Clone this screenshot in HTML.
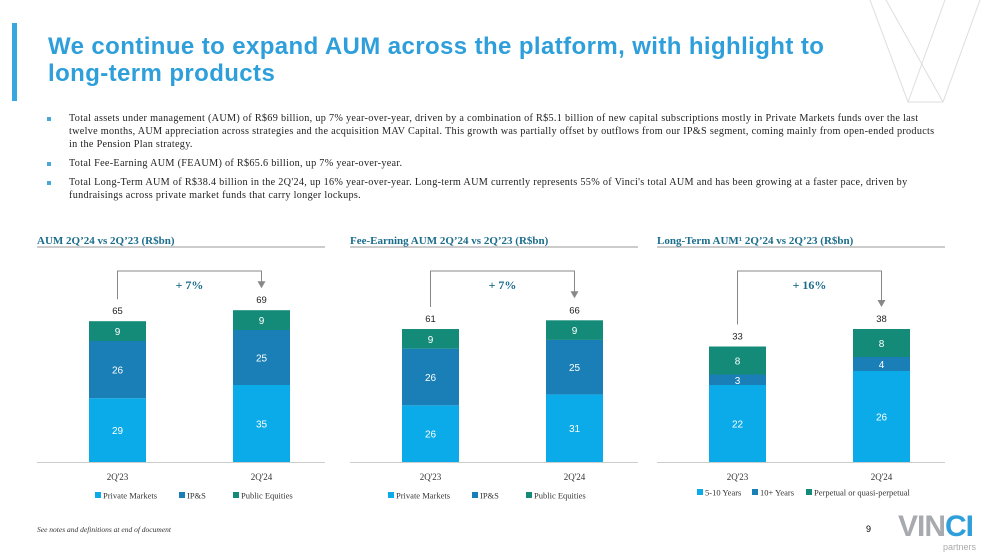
<!DOCTYPE html>
<html><head><meta charset="utf-8">
<style>
body{margin:0;width:996px;height:560px;overflow:hidden;background:#fff;font-family:"Liberation Serif",serif;position:relative}
.abs{position:absolute}
#title{left:48px;top:33px;font:bold 24px/27px "Liberation Sans",sans-serif;color:#2e9fda;letter-spacing:0.4px;white-space:nowrap}
#bar-accent{left:12px;top:23px;width:5px;height:78px;background:#3aa6df}
ul{position:absolute;left:44px;top:112px;width:900px;margin:0;padding:0;list-style:none;font-size:10.2px;line-height:13px;color:#222;letter-spacing:0.3px}
li{position:relative;padding-left:25px;margin-bottom:6px}
li:before{content:"";position:absolute;left:3px;top:5px;width:4px;height:4px;background:#4aa8d6}
.foot{font-size:7.5px;font-style:italic;color:#333}
</style></head><body>
<div class="abs" id="bar-accent"></div>
<div class="abs" id="title">We continue to expand AUM across the platform, with highlight to<br>long-term products</div>
<svg class="abs" style="left:860px;top:0" width="136" height="105">
<path d="M10 0 L48 102 L83 102 L120 0 M85 0 L48 102 M26 0 L83 102" stroke="#ddd" fill="none"/>
</svg>
<ul>
<li>Total assets under management (AUM) of R$69 billion, up 7% year-over-year, driven by a combination of R$5.1 billion of new capital subscriptions mostly in Private Markets funds over the last twelve months, AUM appreciation across strategies and the acquisition MAV Capital. This growth was partially offset by outflows from our IP&amp;S segment, coming mainly from open-ended products in the Pension Plan strategy.</li>
<li>Total Fee-Earning AUM (FEAUM) of R$65.6 billion, up 7% year-over-year.</li>
<li>Total Long-Term AUM of R$38.4 billion in the 2Q'24, up 16% year-over-year. Long-term AUM currently represents 55% of Vinci's total AUM and has been growing at a faster pace, driven by fundraisings across private market funds that carry longer lockups.</li>
</ul>
<svg id="charts" class="abs" style="left:0;top:0" width="996" height="560"></svg>
<div class="abs foot" style="left:37px;top:525px">See notes and definitions at end of document</div>
<div class="abs" style="left:866px;top:524px;font-size:9px;font-family:'Liberation Sans',sans-serif">9</div>
<div class="abs" style="left:898px;top:512px;font:bold 30px/30px 'Liberation Sans',sans-serif;letter-spacing:-1px"><span style="color:#a7abaf">VIN</span><span style="color:#2e9fda">CI</span></div>
<div class="abs" style="left:943px;top:542px;font:9px 'Liberation Sans',sans-serif;color:#aaa">partners</div>
<script>
const categories=["2Q'23","2Q'24"];
const aumPM=[29,35], aumIPS=[26,25], aumPE=[9,9], aumTotal=[65,69];
const feaPM=[26,31], feaIPS=[26,25], feaPE=[9,9], feaTotal=[61,66];
const ltShort=[22,26], ltLong=[3,4], ltPerp=[8,8], ltTotal=[33,38];
const growth=["+ 7%","+ 7%","+ 16%"];
const colors=["#0aabe8","#1a7fb6","#148b78"];
const NS="http://www.w3.org/2000/svg";
const svg=document.getElementById('charts');
function mk(t,a,txt){const e=document.createElementNS(NS,t);for(const k in a)e.setAttribute(k,a[k]);if(txt!==undefined)e.textContent=txt;svg.appendChild(e);return e;}
const charts=[
 {x0:37,title:"AUM 2Q’24 vs 2Q’23 (R$bn)",series:[aumPM,aumIPS,aumPE],totals:aumTotal,legend:["Private Markets","IP&S","Public Equities"],scale:2.2,g:growth[0],legX:[95,179,233]},
 {x0:350,title:"Fee-Earning AUM 2Q’24 vs 2Q’23 (R$bn)",series:[feaPM,feaIPS,feaPE],totals:feaTotal,legend:["Private Markets","IP&S","Public Equities"],scale:2.18,g:growth[1],legX:[388,472,526]},
 {x0:657,title:"Long-Term AUM¹ 2Q’24 vs 2Q’23 (R$bn)",series:[ltShort,ltLong,ltPerp],totals:ltTotal,legend:["5-10 Years","10+  Years","Perpetual or quasi-perpetual"],scale:3.5,g:growth[2],legX:[697,752,806]}
];
const base=462;
charts.forEach((c,ci)=>{
 let t=mk('text',{x:c.x0,y:244,'font-size':11,'font-weight':'bold',fill:'#1b6d8c','font-family':'Liberation Serif'},c.title);
 
 
 let u=mk('line',{x1:c.x0,x2:c.x0+288,y1:247,y2:247,stroke:'#999'});
 
 
 let ax=mk('line',{x1:c.x0,x2:c.x0+288,y1:base+0.5,y2:base+0.5,stroke:'#ccc'});
 
 
 const bx=i=>c.x0+52+i*144, bw=57;
 const tops=[];
 categories.forEach((cat,i)=>{
  let y=base;
  c.series.forEach((s,si)=>{
   const h=s[i]*c.scale;
   y-=h;
   let r=mk('rect',{x:bx(i),y:y,width:bw,height:h,fill:colors[si]});
   
   
   let l=mk('text',{x:bx(i)+bw/2,y:y+h/2+4,'text-anchor':'middle','font-size':10,fill:'#fff','font-family':'Liberation Sans'},s[i]);
   
   
  });
  tops.push(y);
  let tl=mk('text',{x:bx(i)+bw/2,y:y-7,'text-anchor':'middle','font-size':9.5,fill:'#222','font-family':'Liberation Sans'},c.totals[i]);
  
  
  let cl=mk('text',{x:bx(i)+bw/2,y:480,'text-anchor':'middle','font-size':9,fill:'#333','font-family':'Liberation Serif'},cat);
  
  
 });
 const xa=bx(0)+bw/2, xb=bx(1)+bw/2, yt=271;
 let br=mk('path',{d:`M${xa} ${tops[0]-22} L${xa} ${yt} L${xb} ${yt} L${xb} ${tops[1]-28}`,stroke:'#888',fill:'none','stroke-width':1});
 
 
 let ar=mk('path',{d:`M${xb-4} ${tops[1]-29} L${xb+4} ${tops[1]-29} L${xb} ${tops[1]-22} Z`,fill:'#888'});
 
 
 let g=mk('text',{x:(xa+xb)/2,y:289,'text-anchor':'middle','font-size':12,'font-weight':'bold',fill:'#1b6d8c','font-family':'Liberation Serif'},c.g);
 
 
 c.legend.forEach((n,li)=>{
  const ly=c.x0===657?495:498;
  let sw=mk('rect',{x:c.legX[li],y:ly-6,width:6,height:6,fill:colors[li]});
  
  
  let lt=mk('text',{x:c.legX[li]+8,y:ly+0.5,'font-size':8.5,fill:'#333','font-family':'Liberation Serif'},n);
  
  
 });
});
</script>
</body></html>
